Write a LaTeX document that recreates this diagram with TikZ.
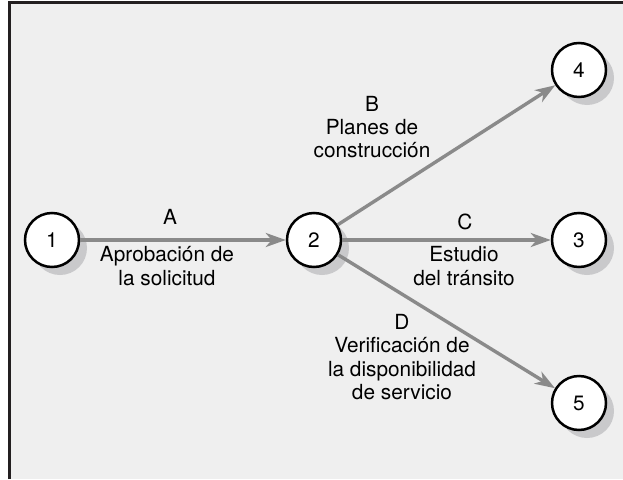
\documentclass[tikz,border=0pt]{standalone}
\usepackage{fontspec}
\setmainfont{TeX Gyre Heros}
\usetikzlibrary{shapes,arrows.meta,positioning,shadows,calc}

\definecolor{panelgray}{HTML}{EFEFEF}
\definecolor{framegray}{HTML}{231F20}
\definecolor{arrowgray}{HTML}{8A8A8A}
\definecolor{shadowgray}{HTML}{C9C9CB}

\begin{document}
\begin{tikzpicture}[
    x=1pt, y=-1pt,
    font=\fontsize{20.8}{23.4}\selectfont,
    event/.style={circle, draw, line width=2.5pt, fill=white, minimum size=54pt, inner sep=0pt,
        drop shadow={shadow xshift=8pt, shadow yshift=-8pt, fill=shadowgray, opacity=1}},
    act/.style={draw=arrowgray, line width=3.4pt, -{Stealth[length=20pt,width=14pt,inset=6pt]}},
    lbl/.style={align=center, inner sep=0pt}
]
    \useasboundingbox (0,0) rectangle (623,479);
    \fill[panelgray] (9,2) rectangle (623,479);
    \draw[framegray, line width=3pt] (9,479) -- (9,2) -- (623,2);

    % eventos
    \node[event] (n1) at (52,240) {1};
    \node[event] (n2) at (314,240) {2};
    \node[event] (n3) at (579,240) {3};
    \node[event] (n4) at (579,70) {4};
    \node[event] (n5) at (579,403) {5};

    % actividades
    \draw[act] (n1) -- (n2);
    \draw[act] (n2) -- (n4);
    \draw[act] (n2) -- (n3);
    \draw[act] (n2) -- (n5);

    \node[lbl] (actA) at (170,217) {A};
    \node[lbl] (descA) at (167,266) {Aprobación de\\la solicitud};
    \node[lbl] (actB) at (372,127) {B\\Planes de\\construcción};
    \node[lbl] (actC) at (465,222) {C};
    \node[lbl] (descC) at (464,266) {Estudio\\del tránsito};
    \node[lbl] (actD) at (402,357) {D\\Verificación de\\la disponibilidad\\de servicio};
\end{tikzpicture}
\end{document}
